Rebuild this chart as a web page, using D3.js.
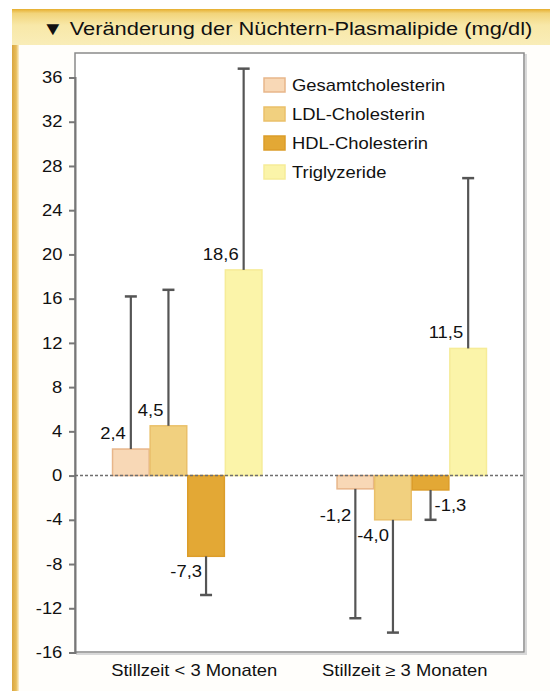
<!DOCTYPE html>
<html><head><meta charset="utf-8">
<script src="https://cdn.jsdelivr.net/npm/d3@7"></script>
<style>
html,body{margin:0;padding:0;background:#fff;}
svg{display:block;font-family:"Liberation Sans",Arial,sans-serif;}
</style></head>
<body><svg id="c" width="550" height="691"></svg>
<script>
const titleText = "▼ Veränderung der Nüchtern-Plasmalipide (mg/dl)";
const categories = ["Stillzeit < 3 Monaten", "Stillzeit ≥ 3 Monaten"];
const seriesNames = ["Gesamtcholesterin", "LDL-Cholesterin", "HDL-Cholesterin", "Triglyzeride"];
const gesamtValues = [2.4, -1.2];
const ldlValues = [4.5, -4.0];
const hdlValues = [-7.3, -1.3];
const trigValues = [18.6, 11.5];
const gesamtErrEnd = [16.2, -12.9];
const ldlErrEnd = [16.8, -14.2];
const hdlErrEnd = [-10.8, -4.0];
const trigErrEnd = [36.8, 26.9];
const valueLabels = [["2,4", "-1,2"], ["4,5", "-4,0"], ["-7,3", "-1,3"], ["18,6", "11,5"]];
const yTicks = [36, 32, 28, 24, 20, 16, 12, 8, 4, 0, -4, -8, -12, -16];

const fills = ["#f8d8b6", "#f1d07f", "#e3a835", "#fbf4a9"];
const strokes = ["#e8b68a", "#eac06a", "#dc9d2a", "#f6ec98"];

const values = [gesamtValues, ldlValues, hdlValues, trigValues];
const errEnds = [gesamtErrEnd, ldlErrEnd, hdlErrEnd, trigErrEnd];

const SX = 1.15; // horizontal text stretch seen in the reference
const svg = d3.select("#c");
function addText(parent, x, yy, str, size, anchor) {
  const g = parent.append("g").attr("transform", `translate(${x},${yy}) scale(${SX},1)`);
  g.append("text").attr("font-size", size).attr("fill", "#111").attr("text-anchor", anchor || "start").text(str);
  return g;
}

const defs = svg.append("defs");
const g1 = defs.append("linearGradient").attr("id","hdr").attr("x1",0).attr("y1",0).attr("x2",0).attr("y2",1);
g1.append("stop").attr("offset","0%").attr("stop-color","#e6ae2e");
g1.append("stop").attr("offset","12%").attr("stop-color","#f2d47a");
g1.append("stop").attr("offset","45%").attr("stop-color","#f8e8a8");
g1.append("stop").attr("offset","100%").attr("stop-color","#f9edb8");
const g2 = defs.append("linearGradient").attr("id","side").attr("x1",0).attr("y1",0).attr("x2",1).attr("y2",0);
g2.append("stop").attr("offset","0%").attr("stop-color","#d9a640");
g2.append("stop").attr("offset","60%").attr("stop-color","#e8bd5a");
g2.append("stop").attr("offset","100%").attr("stop-color","#fbf0d2");

// panel
svg.append("rect").attr("x",12).attr("y",9).attr("width",538).attr("height",682).attr("fill","#fffefb");
svg.append("rect").attr("x",12).attr("y",9).attr("width",7).attr("height",682).attr("fill","url(#side)");
svg.append("rect").attr("x",12).attr("y",9).attr("width",538).attr("height",36).attr("fill","url(#hdr)");
addText(svg, 42, 35, titleText, 19, "start");

const pLeft = 75, pRight = 524, pTop = 53, pBottom = 652;
const y = d3.scaleLinear().domain([-16, 36]).range([652.5, 77.5]);
const x0 = d3.scaleBand().domain(categories).range([pLeft, pRight]).paddingInner(0.33).paddingOuter(0.165);
const x1 = d3.scaleBand().domain(seriesNames).range([0, x0.bandwidth()]).padding(0);

// frame
svg.append("rect").attr("x",pLeft+2).attr("y",pTop+2).attr("width",pRight-pLeft).attr("height",pBottom-pTop)
  .attr("fill","none").attr("stroke","#d8d8d8").attr("stroke-width",2);
svg.append("rect").attr("x",pLeft).attr("y",pTop).attr("width",pRight-pLeft).attr("height",pBottom-pTop)
  .attr("fill","#fff").attr("stroke","#8a8a8a").attr("stroke-width",1.5);

// y axis
const yAxis = d3.axisLeft(y).tickValues(yTicks).tickSize(6).tickPadding(5).tickFormat(d => String(d));
const ax = svg.append("g").attr("transform",`translate(${pLeft},0)`).call(yAxis);
ax.select(".domain").attr("stroke","#777").attr("stroke-width",2);
ax.selectAll(".tick line").attr("stroke","#777").attr("stroke-width",2);
ax.selectAll(".tick text").attr("font-size",16).attr("fill","#111")
  .attr("font-family","Liberation Sans, Arial, sans-serif").attr("transform",`scale(${SX},1)`);

// x labels
const xAxis = d3.axisBottom(x0).tickSize(0).tickPadding(13);
const axb = svg.append("g").attr("transform",`translate(0,${pBottom})`).call(xAxis);
axb.select(".domain").remove();
axb.selectAll(".tick text").attr("font-size",16).attr("fill","#111")
  .attr("font-family","Liberation Sans, Arial, sans-serif")
  .attr("transform",(d, i) => `translate(${i === 0 ? 7 : -7},0) scale(${SX},1)`);

// bars
const groups = svg.append("g");
categories.forEach((cat, ci) => {
  seriesNames.forEach((s, si) => {
    const v = values[si][ci];
    const bx = x0(cat) + x1(s);
    const bw = x1.bandwidth();
    groups.append("rect")
      .attr("x", bx + 0.5).attr("y", y(Math.max(0, v)))
      .attr("width", bw - 1).attr("height", Math.abs(y(v) - y(0)))
      .attr("fill", fills[si]).attr("stroke", strokes[si]).attr("stroke-width", 1.5);
  });
});

// zero line
svg.append("line").attr("x1",pLeft).attr("x2",pRight).attr("y1",y(0)).attr("y2",y(0))
  .attr("stroke","#6e6e6e").attr("stroke-width",1.5).attr("stroke-dasharray","3,2");

// error bars and labels
categories.forEach((cat, ci) => {
  seriesNames.forEach((s, si) => {
    const v = values[si][ci];
    const e = errEnds[si][ci];
    const cx = x0(cat) + x1(s) + x1.bandwidth() / 2;
    svg.append("line").attr("x1",cx).attr("x2",cx).attr("y1",y(v)).attr("y2",y(e))
      .attr("stroke","#555").attr("stroke-width",2.2);
    svg.append("line").attr("x1",cx-6).attr("x2",cx+6).attr("y1",y(e)).attr("y2",y(e))
      .attr("stroke","#555").attr("stroke-width",2.5);
    const lbl = valueLabels[si][ci];
    if (v >= 0) {
      addText(svg, cx - 5, y(v) - 10, lbl, 16, "end");
    } else {
      const rightSide = (si === 2 && ci === 1);
      const extra = (si === 0 && ci === 1) ? 11 : 0;
      addText(svg, rightSide ? cx + 4 : cx - 4, y(v) + 21 + extra, lbl, 16, rightSide ? "start" : "end");
    }
  });
});

// legend
const lg = svg.append("g");
seriesNames.forEach((s, i) => {
  const ly = 85 + i * 29;
  lg.append("rect").attr("x",264).attr("y",ly-7).attr("width",21).attr("height",14)
    .attr("fill",fills[i]).attr("stroke",strokes[i]).attr("stroke-width",1.5);
  addText(lg, 292, ly + 6, s, 16, "start");
});
</script></body></html>
